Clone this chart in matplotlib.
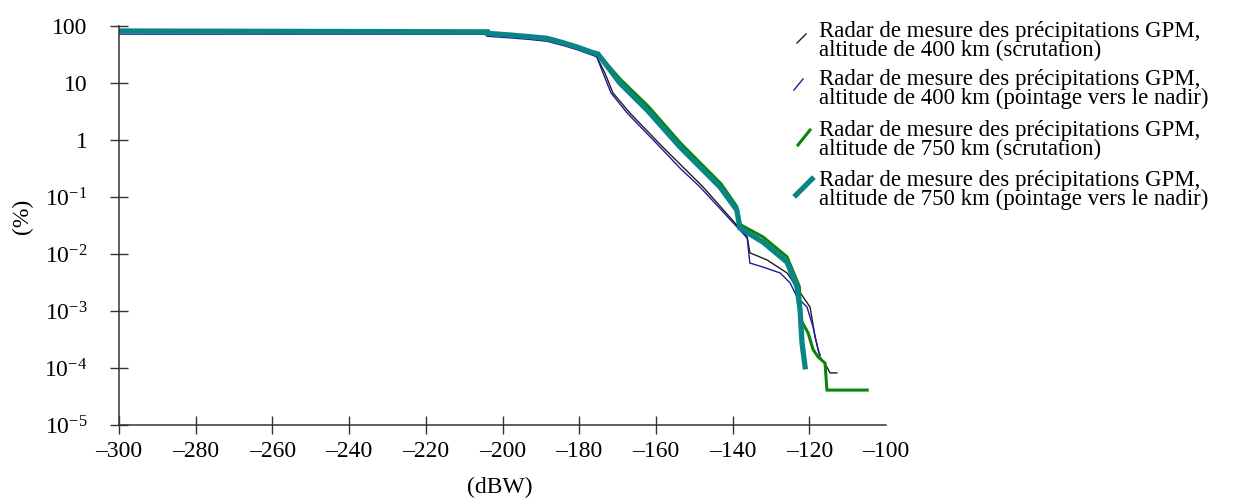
import numpy as np
import matplotlib
matplotlib.use("Agg")
import matplotlib.pyplot as plt
from matplotlib.lines import Line2D

plt.rcParams["font.family"] = "serif"
plt.rcParams["font.serif"] = ["Liberation Serif", "DejaVu Serif"]
plt.rcParams["mathtext.fontset"] = "custom"
plt.rcParams["mathtext.rm"] = "Liberation Serif"
plt.rcParams["font.size"] = 17

# --- data (x in dBW, y in %) ---
x_ticks = [-300, -280, -260, -240, -220, -200, -180, -160, -140, -120, -100]
x_ticklabels = ["\u2013300", "\u2013280", "\u2013260", "\u2013240", "\u2013220", "\u2013200",
                "\u2013180", "\u2013160", "\u2013140", "\u2013120", "\u2013100"]
y_ticks = [1e-5, 1e-4, 1e-3, 1e-2, 1e-1, 1, 10, 100]
y_ticklabels = [r"$\mathregular{10^{-5}}$", r"$\mathregular{10^{-4}}$", r"$\mathregular{10^{-3}}$",
                r"$\mathregular{10^{-2}}$", r"$\mathregular{10^{-1}}$", "1", "10", "100"]

x_400_scan = [-300, -204, -204, -198, -192.8, -188.4, -184.2, -180.6, -176.4, -175.4, -173.3, -171.2,
              -166.8, -158.2, -147.7, -136.2, -135.5, -131.0, -125.8, -121.6, -119.8, -118.5, -117.2,
              -115.4, -114.6, -112.8]
y_400_scan = [78, 78, 72, 67, 62.5, 58.5, 49, 41, 32.5, 28.6, 15.0, 6.7,
              2.98, 0.75, 0.15, 0.020, 0.0105, 0.00785, 0.00465, 0.00176, 0.00117, 3.5e-4, 1.56e-4,
              1.04e-4, 8.2e-5, 8.2e-5]

x_400_nadir = [-300, -204, -204, -198, -192.8, -188.4, -184.2, -180.6, -176.4, -175.4, -173.8, -171.7,
               -167.5, -158.9, -153.7, -148.5, -136.2, -135.5, -132.1, -127.6, -125.0, -123.2, -120.6,
               -119.0, -117.7, -117.2]
y_400_nadir = [72, 72, 66, 62, 58, 54, 45.5, 38.5, 30.5, 28.6, 15, 6.7,
               2.98, 0.75, 0.32, 0.15, 0.0191, 0.00695, 0.0059, 0.00465, 0.0031, 0.00176, 0.00117,
               5.2e-4, 2.07e-4, 1.7e-4]

x_750_scan = [-300, -204, -204, -198, -192.8, -188.4, -184.2, -180.6, -176.4, -175.1, -169.2, -162.0,
              -153.5, -143.0, -138.9, -138.1, -132.1, -125.8, -122.6, -122.2, -120.3, -119.0, -117.7,
              -115.9, -115.4, -104.9]
y_750_scan = [81.7, 79, 74.5, 69.5, 64.9, 60.8, 50.9, 42.9, 34.0, 32.3, 11.5, 3.9,
              0.87, 0.17, 0.068, 0.033, 0.020, 0.0089, 0.0027, 7e-4, 4.1e-4, 2.1e-4, 1.56e-4,
              1.22e-4, 4.1e-5, 4.1e-5]

x_750_nadir = [-300, -204, -204, -198, -192.8, -188.4, -184.2, -180.6, -176.4, -175.1, -169.4, -162.3,
               -153.7, -143.3, -138.9, -138.1, -132.1, -125.8, -123.2, -122.4, -121.9, -121.1]
y_750_nadir = [81.7, 79, 74.5, 69.5, 64.9, 60.8, 50.9, 42.9, 34.0, 32.3, 10.0, 3.36,
               0.753, 0.15, 0.059, 0.0286, 0.0162, 0.0072, 0.00264, 0.00104, 2.75e-4, 1.05e-4]

legend_labels = [
    "Radar de mesure des précipitations GPM,\naltitude de 400 km (scrutation)",
    "Radar de mesure des précipitations GPM,\naltitude de 400 km (pointage vers le nadir)",
    "Radar de mesure des précipitations GPM,\naltitude de 750 km (scrutation)",
    "Radar de mesure des précipitations GPM,\naltitude de 750 km (pointage vers le nadir)",
]

COLORS = ["#1e1e1e", "#1c1c9a", "#0a850a", "#0a8585"]
WIDTHS = [1.0, 1.0, 2.2, 3.8]

W, H = 1238, 504
fig = plt.figure(figsize=(W / 100, H / 100), dpi=100)
ax = fig.add_axes([119 / W, 1 - 425 / H, 767 / W, 399 / H])

series = [
    (x_400_scan, y_400_scan),
    (x_400_nadir, y_400_nadir),
    (x_750_scan, y_750_scan),
    (x_750_nadir, y_750_nadir),
]
for (xs, ys), c, lw in zip(series, COLORS, WIDTHS):
    ax.plot(xs, ys, color=c, lw=lw, solid_joinstyle="miter")

ax.set_yscale("log")
ax.set_xlim(-300, -100)
ax.set_ylim(1e-5, 100)
ax.set_xticks(x_ticks)
ax.set_xticklabels(x_ticklabels)
ax.set_yticks(y_ticks)
ax.set_yticklabels(y_ticklabels)
ax.minorticks_off()

for s in ["top", "right"]:
    ax.spines[s].set_visible(False)
for s in ["left", "bottom"]:
    ax.spines[s].set_color("#333333")
    ax.spines[s].set_linewidth(1.1)
ax.tick_params(axis="both", direction="inout", color="#333333", width=1.0, length=13.5)
ax.tick_params(axis="x", pad=5)
ax.tick_params(axis="y", pad=16)
ax.xaxis.get_major_ticks()[-1].tick1line.set_visible(False)

ax.set_xlabel("(dBW)")
ax.xaxis.set_label_coords(0.497, -0.13)
ax.set_ylabel("(%)")
ax.yaxis.set_label_coords(-0.112, 0.524)

# legend drawn by hand, in pixel positions of the figure
def fx(px):
    return px / W

def fy(py):
    return 1 - py / H

top_y = [21, 69, 120, 170]
handles = [((797, 43), (806, 34)), ((794, 90), (803, 79)),
           ((798, 145), (810, 130)), ((796, 195), (812, 179))]
for label, ty, (p0, p1), c, lw in zip(legend_labels, top_y, handles, COLORS, WIDTHS):
    fig.add_artist(Line2D([fx(p0[0]), fx(p1[0])], [fy(p0[1]), fy(p1[1])],
                          transform=fig.transFigure, color=c, lw=lw))
    fig.text(fx(819), fy(ty), label, va="top", ha="left", linespacing=0.88, fontsize=16.5)

fig.savefig("out.png", dpi=100)
